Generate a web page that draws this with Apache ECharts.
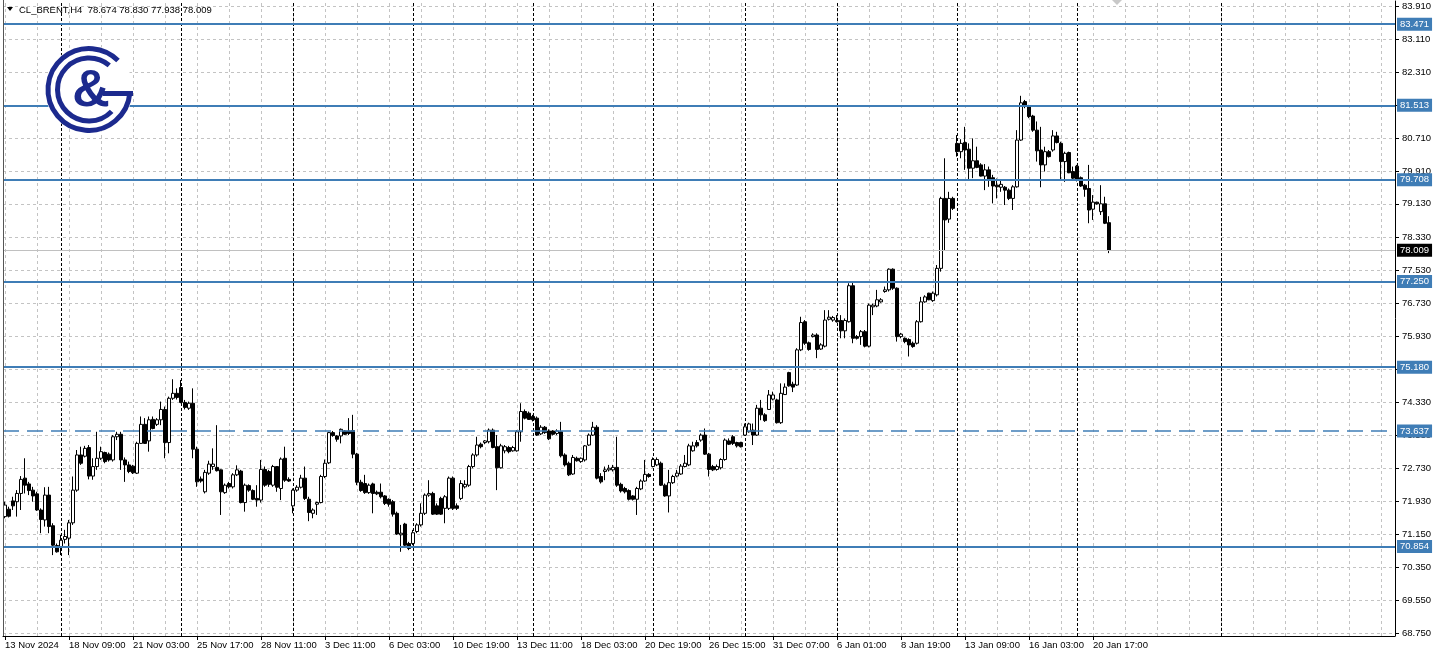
<!DOCTYPE html>
<html>
<head>
<meta charset="utf-8">
<script src="https://cdn.jsdelivr.net/npm/echarts@6/dist/echarts.min.js"></script>
<style>html,body{margin:0;padding:0;background:#fff}#chart{width:1440px;height:656px}</style>
</head>
<body>
<div id="chart"></div>
<script>
// ---- time axis labels (one every 16 H4 bars) ----
const timeLabels = ['13 Nov 2024','18 Nov 09:00','21 Nov 03:00','25 Nov 17:00','28 Nov 11:00','3 Dec 11:00','6 Dec 03:00','10 Dec 19:00','13 Dec 11:00','18 Dec 03:00','20 Dec 19:00','26 Dec 15:00','31 Dec 07:00','6 Jan 01:00','8 Jan 19:00','13 Jan 09:00','16 Jan 03:00','20 Jan 17:00'];

// ---- OHLC values (H4 bars) ----
const opens = [
71.57,71.75,71.95,71.93,72.13,72.50,72.36,72.21,72.12,71.73,
71.49,72.09,71.35,70.87,70.84,71.02,71.05,71.42,72.21,73.06,
73.03,73.24,72.55,72.78,72.98,73.12,73.08,72.94,73.50,73.56,
72.94,72.82,72.79,72.62,73.34,73.80,73.40,73.92,73.80,73.91,
74.16,73.36,74.43,74.55,74.69,74.33,74.19,74.31,73.20,72.48,
72.17,72.62,72.78,72.76,72.70,72.15,72.37,72.29,72.58,72.67,
71.91,72.32,72.20,72.01,71.97,72.71,72.66,72.33,72.78,72.25,
72.98,72.47,71.83,72.21,72.28,72.50,71.99,71.65,71.87,71.91,
72.54,72.87,73.60,73.52,73.52,73.64,73.64,73.65,73.08,72.40,
72.37,72.15,72.36,72.16,72.16,72.07,71.99,71.93,71.65,71.13,
71.39,70.92,70.92,71.21,71.37,71.65,72.09,72.13,71.83,72.01,
71.77,71.77,72.50,71.83,72.01,72.29,72.33,72.78,73.06,73.32,
73.36,73.38,73.66,73.26,72.75,73.16,73.24,73.16,73.16,73.62,
74.11,74.07,73.99,73.95,73.57,73.73,73.64,73.64,73.58,73.62,
73.06,72.86,72.60,72.98,72.90,72.94,73.30,73.54,73.73,72.54,
72.66,72.70,72.70,72.76,72.35,72.25,72.20,72.07,71.99,72.24,
72.43,72.59,72.78,72.82,72.86,72.33,72.07,72.39,72.55,72.60,
72.78,72.82,73.16,73.36,73.42,73.54,73.08,72.78,72.71,72.75,
72.95,73.40,73.50,73.36,73.36,73.54,73.62,73.66,73.54,74.19,
74.03,74.16,74.41,74.39,73.84,74.52,75.05,74.77,74.75,75.60,
76.28,75.77,75.92,75.96,75.62,75.69,76.34,76.32,76.31,76.31,
76.06,76.28,77.15,75.92,75.92,76.04,75.69,76.64,76.66,76.76,
77.01,77.05,77.55,77.09,75.92,75.88,75.85,75.76,75.76,76.28,
76.76,76.97,76.79,76.93,77.57,79.26,78.76,79.26,80.59,80.39,
80.61,80.45,79.99,80.17,80.07,79.80,79.95,79.76,79.58,79.53,
79.53,79.46,79.26,79.54,80.67,81.60,81.48,81.25,80.91,80.43,
80.07,80.39,80.43,80.77,80.59,80.15,80.37,79.91,80.04,79.76,
79.58,79.50,79.00,79.17,78.94,79.13,78.674];
const closes = [
71.85,71.58,71.83,72.13,72.47,72.33,72.20,72.07,71.73,71.50,
72.09,71.33,70.88,70.72,71.00,71.09,71.42,72.21,73.06,72.86,
73.22,72.55,72.78,72.98,73.14,72.90,72.94,73.50,73.56,72.94,
72.82,72.66,72.63,73.34,73.80,73.34,73.91,73.70,73.91,74.16,
73.36,74.43,74.55,74.45,74.33,74.21,74.31,73.20,72.41,72.43,
72.64,72.84,72.84,72.68,72.17,72.33,72.29,72.58,72.70,71.91,
72.33,72.21,71.99,71.97,72.71,72.33,72.35,72.78,72.28,72.96,
72.45,72.43,72.21,72.28,72.50,72.01,71.67,71.73,71.91,72.54,
72.86,73.60,73.53,73.44,73.68,73.56,73.58,73.08,72.40,72.20,
72.15,72.33,72.13,72.12,72.05,71.89,71.87,71.63,71.15,71.17,
70.88,70.80,71.18,71.37,71.65,72.09,72.13,71.63,71.63,71.63,
72.05,72.50,71.77,71.77,72.37,72.35,72.78,73.06,73.30,73.26,
73.40,73.66,73.24,72.75,73.28,73.26,73.14,73.24,73.62,74.11,
73.95,73.92,73.91,73.54,73.73,73.60,73.45,73.56,73.64,73.04,
72.82,72.58,73.00,72.92,72.98,73.28,73.54,73.73,72.50,72.41,
72.70,72.74,72.76,72.33,72.19,72.17,71.99,71.99,72.25,72.43,
72.59,72.54,72.95,72.95,72.33,72.07,72.39,72.54,72.62,72.79,
72.86,73.28,73.28,73.28,73.54,73.08,72.71,72.70,72.78,72.95,
73.42,73.32,73.34,73.28,73.26,73.74,73.81,73.54,74.19,74.03,
73.89,74.51,74.51,73.84,74.55,74.70,74.73,74.70,75.60,76.26,
75.76,75.61,75.96,75.61,75.72,76.32,76.39,76.38,76.28,76.06,
76.31,77.15,75.88,75.88,76.04,75.69,76.68,76.68,76.81,76.81,
77.05,77.55,77.09,75.92,75.98,75.80,75.72,75.68,76.28,76.76,
76.88,76.81,76.97,77.57,79.26,78.74,79.26,79.02,80.39,80.59,
80.43,79.99,80.17,80.01,79.80,79.95,79.71,79.56,79.54,79.60,
79.46,79.26,79.54,80.67,81.57,81.48,81.24,80.91,80.41,80.07,
80.39,80.27,80.77,80.61,80.15,80.35,79.88,79.75,79.71,79.56,
79.48,78.98,79.17,79.13,79.13,78.66,78.009];
const lows = [
71.53,71.55,71.73,71.57,71.73,72.13,72.09,71.93,71.71,71.17,
71.33,71.17,70.64,70.70,70.64,70.92,70.64,71.37,72.17,72.82,
73.00,72.47,72.46,72.70,72.94,72.86,72.90,72.90,73.42,72.70,
72.41,72.62,72.60,72.60,73.33,73.33,73.14,73.68,73.76,73.78,
72.98,73.10,74.39,74.40,74.31,74.16,74.15,72.98,72.29,72.39,
72.13,72.58,72.70,72.66,71.61,72.12,72.25,72.25,72.55,71.89,
71.69,72.17,71.97,71.81,71.91,72.29,72.29,72.29,72.17,71.97,
72.41,72.41,71.65,72.17,72.25,71.97,71.46,71.53,71.61,71.89,
72.50,72.84,73.50,73.38,73.34,73.54,73.54,72.98,72.33,72.17,
72.12,72.12,71.65,72.09,72.01,71.85,71.81,71.57,71.13,70.72,
70.84,70.76,70.88,71.17,71.33,71.61,72.05,71.61,71.61,71.61,
71.41,71.73,71.73,71.73,71.97,72.25,72.29,72.74,73.02,73.22,
73.32,73.34,73.22,72.21,72.73,73.10,73.10,73.14,73.14,73.38,
73.92,73.91,73.87,73.52,73.54,73.57,73.42,73.53,73.54,73.00,
72.78,72.55,72.58,72.90,72.87,72.90,73.28,73.52,72.47,72.37,
72.45,72.66,72.66,72.29,72.15,72.13,71.96,71.96,71.61,72.21,
72.41,72.51,72.76,72.79,72.31,72.05,71.67,72.36,72.52,72.58,
72.76,72.79,73.14,73.24,73.38,73.06,72.54,72.67,72.68,72.71,
72.92,73.30,73.30,73.24,73.24,73.52,73.60,73.30,73.52,73.90,
73.86,74.15,74.38,73.82,73.81,74.51,74.71,74.58,74.73,75.57,
75.72,75.58,75.90,75.40,75.60,75.66,76.31,76.28,76.26,75.88,
75.88,76.26,75.76,75.85,75.72,75.66,75.66,76.44,76.63,76.74,
76.98,77.01,77.05,75.80,75.88,75.76,75.44,75.65,75.73,76.26,
76.74,76.80,76.76,76.89,77.49,78.01,78.67,78.98,80.27,80.23,
79.95,79.71,79.75,79.99,79.79,79.46,79.54,79.14,79.26,79.42,
79.10,79.22,78.98,79.52,80.65,81.44,81.20,80.87,80.15,79.53,
79.91,80.25,80.39,80.59,79.71,79.66,79.87,79.71,79.67,79.54,
79.30,78.66,78.74,79.11,78.86,78.64,77.938];
const highs = [
71.93,71.81,72.05,72.21,72.55,72.98,72.41,72.29,72.17,71.77,
72.28,72.29,71.41,70.92,71.13,71.25,71.49,72.54,73.18,73.26,
73.28,73.30,72.98,73.62,73.26,73.14,73.12,73.54,73.62,73.62,
73.00,72.90,72.82,73.38,73.99,73.95,73.99,73.99,73.95,74.35,
74.23,74.47,74.89,74.67,74.87,74.39,74.35,74.67,73.26,72.54,
72.70,72.92,73.22,73.78,72.71,72.37,72.41,72.62,72.81,72.70,
72.37,72.35,72.23,72.33,72.94,72.78,72.70,72.82,72.79,73.00,
73.26,72.52,72.25,72.33,72.58,72.78,72.05,71.77,71.93,72.58,
72.95,73.62,73.64,73.54,73.70,73.66,73.95,74.03,73.11,72.46,
72.58,72.37,72.39,72.20,72.37,72.09,72.01,71.97,71.69,71.37,
71.42,70.96,71.25,71.41,71.89,72.13,72.45,72.17,71.89,72.05,
72.09,72.54,72.54,71.89,72.45,72.45,72.82,73.10,73.50,73.36,
73.42,73.70,73.70,73.54,73.33,73.30,73.28,73.28,73.66,74.31,
74.16,74.11,74.03,73.99,73.78,73.76,73.68,73.66,73.68,73.86,
73.10,72.90,73.06,73.02,73.00,73.30,73.58,73.86,73.78,72.62,
72.78,72.82,72.82,73.50,72.39,72.29,72.23,72.09,72.29,72.47,
72.94,72.62,73.00,73.00,72.90,72.37,72.70,72.58,72.70,72.84,
73.06,73.33,73.38,73.42,73.58,73.70,73.11,72.82,72.83,72.98,
73.46,73.46,73.54,73.38,73.38,73.82,73.84,73.82,74.27,74.39,
74.07,74.63,74.59,74.42,74.79,74.79,75.07,74.83,75.64,76.40,
76.32,75.80,76.00,76.00,75.76,76.56,76.56,76.42,76.44,76.44,
76.36,77.21,77.25,75.96,76.08,76.08,76.72,76.72,77.05,76.85,
77.13,77.57,77.57,77.11,76.01,75.90,75.88,75.80,76.32,76.88,
76.92,76.98,77.01,77.65,79.30,80.23,79.42,79.30,80.79,80.69,
80.99,80.59,80.71,80.51,80.11,80.09,80.03,79.83,79.74,79.71,
79.56,79.50,79.58,80.91,81.74,81.64,81.52,81.28,81.12,80.99,
80.51,80.43,80.91,80.87,80.63,80.39,80.39,80.03,80.07,79.79,
79.61,80.07,79.34,79.18,79.58,79.30,78.830];

// ---- price scale labels ----
const priceTicks = [83.91,83.11,82.31,81.51,80.71,79.91,79.13,78.33,77.53,76.73,75.93,75.13,74.33,73.53,72.73,71.93,71.15,70.35,69.55,68.75];
// ---- horizontal levels ----
const solidLevels = [83.471, 81.513, 79.708, 77.250, 75.180, 70.854];
const dashedLevels = [73.637];
const lastPrice = 78.009;
// ---- weekly period separators (bar index) ----
const separators = [14, 44, 72, 102, 132, 162, 185, 208, 238, 268, 304];
const header = 'CL_BRENT,H4  78.674 78.830 77.938 78.009';

const SLOTS = 348;
const FONT = '"Liberation Sans", Arial, sans-serif';
const BLUE = '#3f7db6';
const LOGO = '#1c2a8e';

const categories = Array.from({length: SLOTS}, (_, i) => String(i));
const candleData = opens.map((o, i) => [o, closes[i], lows[i], highs[i]]);

const gridLines = priceTicks.map(v => ({yAxis: v}));
for (let i = 0; i < SLOTS; i += 8) gridLines.push({xAxis: i});
separators.forEach(i => gridLines.push({xAxis: i, lineStyle: {color: '#000', type: [3, 2], width: 1}}));

const levelLines = [{yAxis: lastPrice, lineStyle: {color: '#c0c0c0', width: 1, type: 'solid'},
  label: {formatter: lastPrice.toFixed(3), backgroundColor: '#000'}}];
solidLevels.forEach(v => levelLines.push({yAxis: v, lineStyle: {color: BLUE, width: 2, type: 'solid'}, label: {formatter: v.toFixed(3)}}));
dashedLevels.forEach(v => levelLines.push({yAxis: v, lineStyle: {color: BLUE, width: 1.5, type: [16, 8]}, label: {formatter: v.toFixed(3)}}));

const isLabelIdx = i => i % 16 === 0 && i / 16 < timeLabels.length;
const rad = d => d * Math.PI / 180;

const chart = echarts.init(document.getElementById('chart'), null, {renderer: 'canvas'});
chart.setOption({
  animation: false,
  backgroundColor: '#fff',
  grid: {left: 3, right: 45, top: 1, bottom: 20, containLabel: false, outerBoundsMode: 'none'},
  xAxis: {
    type: 'category', data: categories, boundaryGap: true,
    axisLine: {show: true, lineStyle: {color: '#000', width: 1}},
    axisTick: {show: true, alignWithLabel: true, interval: (i) => isLabelIdx(i), length: 4, lineStyle: {color: '#000'}},
    axisLabel: {show: true, interval: (i) => isLabelIdx(i), formatter: (v, i) => isLabelIdx(i) ? timeLabels[i / 16] : '',
      align: 'left', margin: 4, color: '#000', fontSize: 9.5, fontFamily: FONT},
    splitLine: {show: false}
  },
  yAxis: {
    type: 'value', position: 'right', min: 68.685, max: 84.031, scale: true,
    axisLine: {show: true, lineStyle: {color: '#000', width: 1}},
    axisTick: {show: true, customValues: priceTicks, length: 4, lineStyle: {color: '#000'}},
    axisLabel: {show: true, customValues: priceTicks, formatter: v => v.toFixed(3), color: '#000', fontSize: 9.5, fontFamily: FONT, margin: 7},
    splitLine: {show: false}
  },
  series: [
    {
      type: 'line', data: [], z: 1, silent: true,
      markLine: {
        z: 1, silent: true, symbol: ['none', 'none'], animation: false,
        label: {show: false}, emphasis: {disabled: true},
        lineStyle: {color: '#c3c3c3', type: [3, 3], width: 1},
        data: gridLines
      }
    },
    {
      type: 'candlestick', data: candleData, z: 3, barWidth: 3, silent: true,
      itemStyle: {color: '#ffffff', color0: '#000000', borderColor: '#000000', borderColor0: '#000000', borderColorDoji: '#000000', borderWidth: 1}
    },
    {
      type: 'line', data: [], z: 6, silent: true, clip: false,
      markLine: {
        z: 6, silent: true, symbol: ['none', 'none'], animation: false, emphasis: {disabled: true},
        label: {show: true, position: 'end', distance: 2, color: '#fff', backgroundColor: BLUE,
          fontSize: 9.5, fontFamily: FONT, padding: [2, 3, 1, 3]},
        data: levelLines
      }
    }
  ],
  graphic: [
    {type: 'polygon', shape: {points: [[7, 7], [13, 7], [10, 11]]}, style: {fill: '#000'}, z: 100},
    {type: 'text', style: {text: header, x: 19, y: 10, font: '9.5px ' + FONT, fill: '#000', textVerticalAlign: 'middle', verticalAlign: 'middle'}, z: 100},
    {type: 'polygon', shape: {points: [[1112, 0], [1122, 0], [1117, 5]]}, style: {fill: '#c8c8c8'}, z: 100},
    {type: 'line', shape: {x1: 3.5, y1: 0, x2: 3.5, y2: 636}, style: {stroke: '#555', lineWidth: 1}, z: 100},
    {type: 'circle', shape: {cx: 89, cy: 89.5, r: 44}, style: {fill: '#fff'}, z: 100},
    {type: 'arc', shape: {cx: 89, cy: 89.5, r: 41, startAngle: rad(5), endAngle: rad(315), clockwise: true},
      style: {stroke: LOGO, lineWidth: 5, fill: null}, z: 101},
    {type: 'arc', shape: {cx: 89, cy: 89.5, r: 31.5, startAngle: rad(44), endAngle: rad(310), clockwise: true},
      style: {stroke: LOGO, lineWidth: 5, fill: null}, z: 101},
    {type: 'rect', shape: {x: 103, y: 91, width: 30, height: 5}, style: {fill: LOGO}, z: 101},
    {type: 'text', style: {text: '&', x: 91, y: 92, font: 'bold 52px ' + FONT, fill: LOGO,
      textAlign: 'center', align: 'center', textVerticalAlign: 'middle', verticalAlign: 'middle'}, z: 101}
  ]
});
</script>
</body>
</html>
